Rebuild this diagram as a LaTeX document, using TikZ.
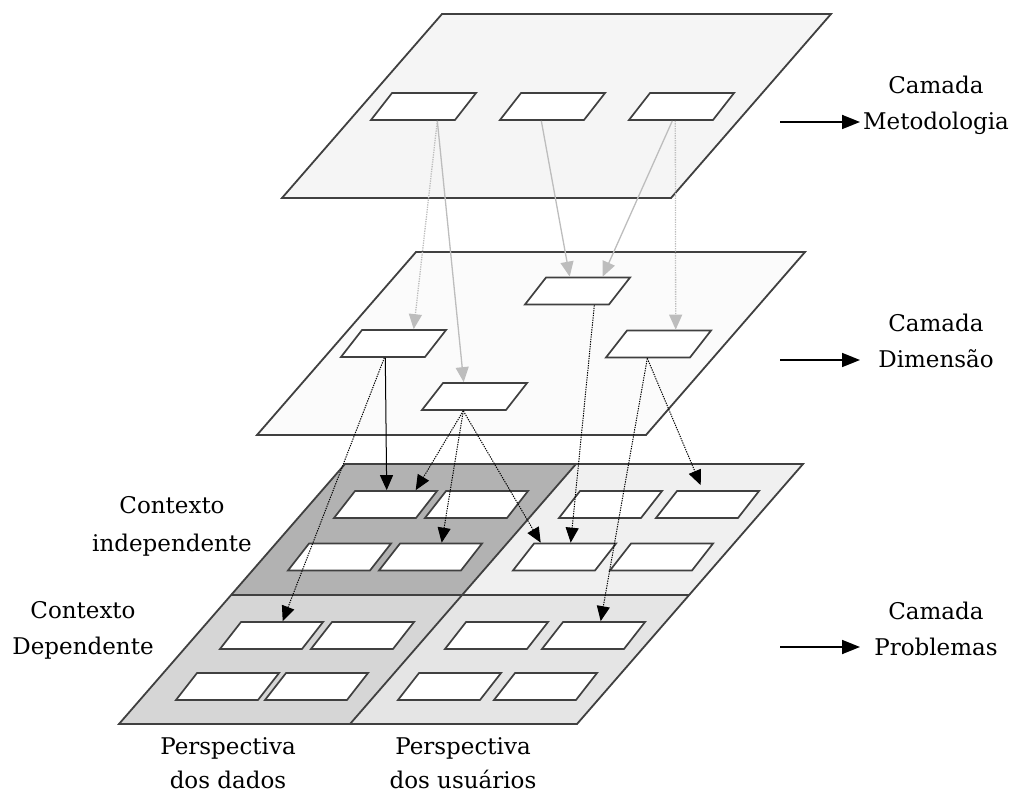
\documentclass[tikz,border=0pt]{standalone}
\usepackage{fontspec}
\setmainfont{DejaVu Serif}
\usetikzlibrary{arrows.meta}
\definecolor{planeline}{gray}{0.25}
\definecolor{topfill}{gray}{0.96}
\definecolor{midfill}{gray}{0.985}
\definecolor{quadA}{gray}{0.70}
\definecolor{quadB}{gray}{0.94}
\definecolor{quadC}{gray}{0.84}
\definecolor{quadD}{gray}{0.90}
\definecolor{linkgray}{gray}{0.74}
\tikzset{
  plane/.style={draw=planeline, line width=1.8pt},
  cell/.style={draw=planeline, fill=white, line width=1.7pt, xslant=0.78, minimum width=84pt, minimum height=27pt, inner sep=0pt},
  smallcell/.style={cell, minimum width=82pt},
  arrow/.style={-{Triangle[length=15pt,width=13pt]}, line width=1pt},
  dottedarrow/.style={arrow, dash pattern=on 1.3pt off 1.1pt},
  grayarrow/.style={-{Triangle[length=15pt,width=13pt]}, draw=linkgray, line width=1.3pt},
  graydotted/.style={grayarrow, dash pattern=on 1.3pt off 1.1pt},
  layerarrow/.style={-{Triangle[length=18pt,width=14pt]}, line width=1.8pt},
  caption/.style={font=\fontsize{23}{36}\selectfont, align=center, inner sep=0pt}
}

\begin{document}
\begin{tikzpicture}[x=1pt, y=-1pt]
\useasboundingbox (0,0) rectangle (1017,794);

% Planes
\draw[plane, fill=topfill] (442,14) -- (831,14) -- (671,198) -- (282,198) -- cycle;
\draw[plane, fill=midfill] (416,252) -- (805,252) -- (646,435) -- (257,435) -- cycle;
\fill[quadA] (345,464) -- (576,464) -- (462,595) -- (231,595) -- cycle;
\fill[quadB] (576,464) -- (803,464) -- (689,595) -- (462,595) -- cycle;
\fill[quadC] (231,595) -- (462,595) -- (350,724) -- (119,724) -- cycle;
\fill[quadD] (462,595) -- (689,595) -- (577,724) -- (350,724) -- cycle;
\draw[plane] (345,464) -- (803,464) -- (577,724) -- (119,724) -- cycle;
\draw[plane] (231,595) -- (689,595);
\draw[plane] (576,464) -- (350,724);

% Nodes
\node[cell] (T1) at (423.5,106.5) {};
\node[cell] (T2) at (552.5,106.5) {};
\node[cell] (T3) at (681.5,106.5) {};

\node[cell] (M1) at (393.5,343.5) {};
\node[cell] (M2) at (474.5,396.5) {};
\node[cell] (M3) at (577.5,291) {};
\node[cell] (M4) at (658.5,344) {};

\node[smallcell] (P1) at (385.5,504.5) {};
\node[smallcell] (P2) at (476.5,504.5) {};
\node[smallcell] (P3) at (610.5,504.5) {};
\node[smallcell] (P4) at (707.5,504.5) {};
\node[smallcell] (P5) at (339.5,557) {};
\node[smallcell] (P6) at (430.5,557) {};
\node[smallcell] (P7) at (564.5,557) {};
\node[smallcell] (P8) at (661.5,557) {};
\node[smallcell] (P9) at (271.5,635.5) {};
\node[smallcell] (P10) at (362.5,635.5) {};
\node[smallcell] (P11) at (496.5,635.5) {};
\node[smallcell] (P12) at (593.5,635.5) {};
\node[smallcell] (P13) at (227.5,686.5) {};
\node[smallcell] (P14) at (316.5,686.5) {};
\node[smallcell] (P15) at (449.5,686.5) {};
\node[smallcell] (P16) at (545.5,686.5) {};

\node[caption] (capMet) at (936,105) {Camada\\Metodologia};
\node[caption] (capDim) at (936,341) {Camada\\Dimensão};
\node[caption] (capPro) at (936,629) {Camada\\Problemas};
\node[caption, font=\fontsize{23}{38}\selectfont] (capInd) at (172,526) {Contexto\\independente};
\node[caption] (capDep) at (83,630) {Contexto\\Dependente};
\node[caption, font=\fontsize{23}{34}\selectfont] (capDad) at (228,763) {Perspectiva\\dos dados};
\node[caption, font=\fontsize{23}{34}\selectfont] (capUsu) at (463,763) {Perspectiva\\dos usuários};

\coordinate (aMet) at (780,122);
\coordinate (bMet) at (860,122);
\coordinate (aDim) at (780,360);
\coordinate (bDim) at (860,360);
\coordinate (aPro) at (780,647);
\coordinate (bPro) at (860,647);

% Edges
\draw[graydotted] ([xshift=25pt]T1.south) -- ([xshift=9pt]M1.north);
\draw[grayarrow] ([xshift=25pt]T1.south) -- ([xshift=-22pt]M2.north);
\draw[grayarrow] (T2.south) -- ([xshift=-19pt]M3.north);
\draw[grayarrow] ([xshift=2pt]T3.south) -- ([xshift=14pt]M3.north);
\draw[graydotted] ([xshift=5pt]T3.south) -- ([xshift=6pt]M4.north);

\draw[arrow] ([xshift=3pt]M1.south) -- ([xshift=-10pt]P1.north);
\draw[dottedarrow] ([xshift=2pt]M1.south) -- (P9.north);
\draw[dottedarrow] (M2.south) -- ([xshift=19pt]P1.north);
\draw[dottedarrow] (M2.south) -- (P6.north);
\draw[dottedarrow] (M2.south) -- ([xshift=-35pt]P7.north);
\draw[dottedarrow] ([xshift=28pt]M3.south) -- ([xshift=-5pt]P7.north);
\draw[dottedarrow] (M4.south) -- ([xshift=-4pt]P12.north);
\draw[dottedarrow] (M4.south) -- ([xshift=-18pt, yshift=5pt]P4.north);

\draw[layerarrow] (aMet) -- (bMet);
\draw[layerarrow] (aDim) -- (bDim);
\draw[layerarrow] (aPro) -- (bPro);

\end{tikzpicture}
\end{document}
